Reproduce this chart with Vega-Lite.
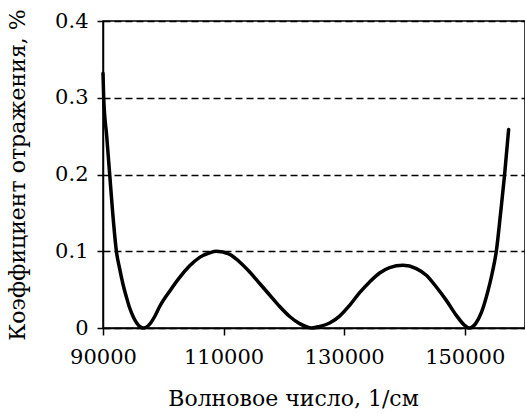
{
  "$schema": "https://vega.github.io/schema/vega-lite/v6.json",
  "autosize": {"type": "none"},
  "padding": {"left": 103, "top": 21, "right": 0, "bottom": 86},
  "width": 422,
  "height": 307,
  "background": "white",
  "config": {
    "font": "DejaVu Serif",
    "view": {"stroke": "black", "strokeWidth": 1.5}
  },
  "data": {
    "values": [
      {"x": 90000, "r": 0.332},
      {"x": 90116, "r": 0.30},
      {"x": 90614, "r": 0.25},
      {"x": 91111, "r": 0.20},
      {"x": 91609, "r": 0.15},
      {"x": 92222, "r": 0.10},
      {"x": 92769, "r": 0.077},
      {"x": 93317, "r": 0.057},
      {"x": 93930, "r": 0.039},
      {"x": 94428, "r": 0.026},
      {"x": 95091, "r": 0.0134},
      {"x": 95589, "r": 0.0066},
      {"x": 96086, "r": 0.002},
      {"x": 96799, "r": 0.0},
      {"x": 97745, "r": 0.005},
      {"x": 98574, "r": 0.015},
      {"x": 99403, "r": 0.028},
      {"x": 101062, "r": 0.048},
      {"x": 102720, "r": 0.066},
      {"x": 104379, "r": 0.081},
      {"x": 106037, "r": 0.092},
      {"x": 107696, "r": 0.098},
      {"x": 108807, "r": 0.100},
      {"x": 111012, "r": 0.096},
      {"x": 112670, "r": 0.086},
      {"x": 114329, "r": 0.073},
      {"x": 115987, "r": 0.058},
      {"x": 117646, "r": 0.043},
      {"x": 119304, "r": 0.028},
      {"x": 120962, "r": 0.015},
      {"x": 122621, "r": 0.0057},
      {"x": 124611, "r": 0.0},
      {"x": 125938, "r": 0.002},
      {"x": 127596, "r": 0.0065},
      {"x": 129254, "r": 0.0155},
      {"x": 130913, "r": 0.0296},
      {"x": 132571, "r": 0.046},
      {"x": 134229, "r": 0.060},
      {"x": 135888, "r": 0.0717},
      {"x": 137546, "r": 0.0787},
      {"x": 139752, "r": 0.0817},
      {"x": 141974, "r": 0.0774},
      {"x": 143633, "r": 0.0687},
      {"x": 145291, "r": 0.0534},
      {"x": 146950, "r": 0.036},
      {"x": 148608, "r": 0.0165},
      {"x": 149985, "r": 0.0035},
      {"x": 150731, "r": 0.0},
      {"x": 151809, "r": 0.0057},
      {"x": 152755, "r": 0.020},
      {"x": 153849, "r": 0.048},
      {"x": 154546, "r": 0.071},
      {"x": 155242, "r": 0.10},
      {"x": 155955, "r": 0.15},
      {"x": 156618, "r": 0.20},
      {"x": 157282, "r": 0.2585}
    ]
  },
  "mark": {"type": "line", "color": "black", "strokeWidth": 3.5, "interpolate": "monotone", "strokeCap": "round"},
  "encoding": {
    "x": {
      "field": "x", "type": "quantitative",
      "scale": {"domain": [90000, 160000], "nice": false, "zero": false},
      "axis": {
        "values": [90000, 110000, 130000, 150000],
        "format": "d",
        "grid": false,
        "domainColor": "black", "domainWidth": 1.5,
        "tickColor": "black", "tickWidth": 1.5, "tickSize": 7,
        "labelFont": "DejaVu Serif",
        "labelFontSize": 21, "labelColor": "black", "labelPadding": 11,
        "labelFlush": false,
        "title": "Волновое число,  1/см",
        "titleFont": "DejaVu Serif",
        "titleFontSize": 22, "titleFontWeight": "normal", "titleColor": "black",
        "titlePadding": 21, "titleX": 190
      }
    },
    "y": {
      "field": "r", "type": "quantitative",
      "scale": {"domain": [0, 0.4], "nice": false},
      "axis": {
        "values": [0, 0.1, 0.2, 0.3, 0.4],
        "labelExpr": "datum.value == 0 ? '0' : format(datum.value, '.1f')",
        "grid": true, "gridColor": "black", "gridWidth": 1.5, "gridDash": [7, 4], "gridOpacity": 1,
        "domainColor": "black", "domainWidth": 1.5,
        "tickColor": "black", "tickWidth": 1.5, "tickSize": 6,
        "labelFont": "DejaVu Serif",
        "labelFontSize": 21, "labelColor": "black", "labelPadding": 9,
        "labelFlush": false,
        "title": "Коэффициент отражения,  %",
        "titleFont": "DejaVu Serif",
        "titleFontSize": 22, "titleFontWeight": "normal", "titleColor": "black",
        "titlePadding": 25
      }
    }
  }
}
